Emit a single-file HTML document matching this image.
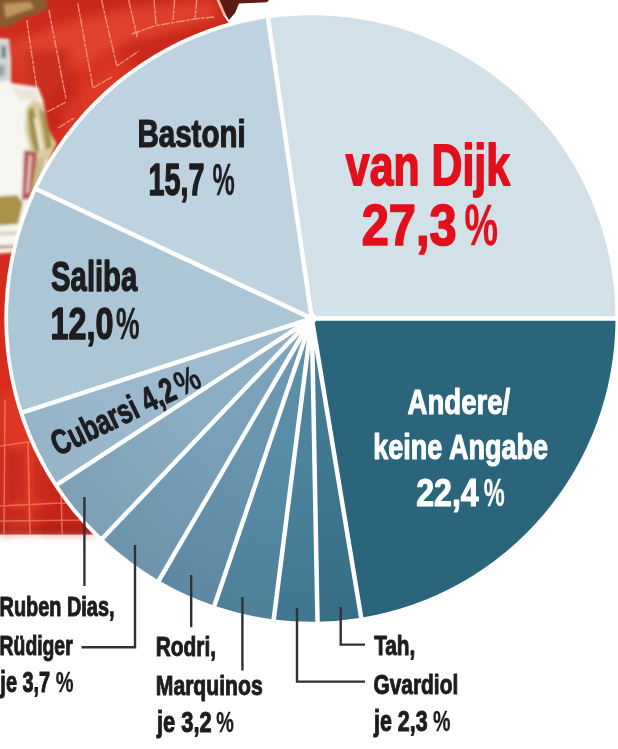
<!DOCTYPE html>
<html lang="de"><head><meta charset="utf-8"><title>Umfrage Innenverteidiger</title>
<style>
html,body{margin:0;padding:0;background:#fff;}
body{width:618px;height:749px;overflow:hidden;position:relative;}
svg{display:block;position:absolute;left:0;top:0;}
text{font-family:"Liberation Sans",sans-serif;font-weight:bold;vector-effect:non-scaling-stroke;stroke-linejoin:round;}
</style></head><body>
<svg width="618" height="749" viewBox="0 0 618 749">
<rect width="618" height="749" fill="#fff"/>
<defs>
<filter id="b1" x="-30%" y="-30%" width="160%" height="160%"><feGaussianBlur stdDeviation="0.7"/></filter>
<filter id="b2" x="-30%" y="-30%" width="160%" height="160%"><feGaussianBlur stdDeviation="1.6"/></filter>
<filter id="b4" x="-30%" y="-30%" width="160%" height="160%"><feGaussianBlur stdDeviation="5"/></filter>
<linearGradient id="redv" x1="0" y1="0" x2="0" y2="1">
<stop offset="0" stop-color="#c8281c"/><stop offset="0.12" stop-color="#d93322"/><stop offset="0.45" stop-color="#d52b1e"/><stop offset="0.8" stop-color="#d82c1f"/><stop offset="0.965" stop-color="#cf281c"/><stop offset="0.99" stop-color="#a81e17"/><stop offset="1" stop-color="#b8443a"/>
</linearGradient>
</defs>
<g>
<path d="M0 0H218L224 16L232 28L250 45H330V330H230V534.5H0Z" fill="url(#redv)"/>
<!-- folds: lighter and darker zones -->
<g filter="url(#b4)">
<path d="M10 45L60 25L130 8L215 0L215 22L130 40L70 70L40 110Z" fill="#ea4f36" opacity="0.6"/>
<path d="M22 50L70 48L80 110L52 135L30 100Z" fill="#b4221a" opacity="0.55"/>
<path d="M120 45L215 18L218 70L160 110L120 140Z" fill="#bf241b" opacity="0.5"/>
<path d="M60 110L120 60L150 70L100 140L70 160Z" fill="#e2402b" opacity="0.45"/>
<path d="M0 395L45 380L65 470L35 534L0 534Z" fill="#e5432d" opacity="0.5"/>
<path d="M0 440L10 440L10 534L0 534Z" fill="#b3211a" opacity="0.5"/>
<path d="M40 470L95 500L95 534L40 534Z" fill="#c4251b" opacity="0.5"/>
</g>
<!-- jersey stitching lines -->
<g stroke="#f6a58c" stroke-width="1.4" fill="none" opacity="0.8" stroke-dasharray="9 1.2 4 1" filter="url(#b1)">
<path d="M26.8 20L38.7 102M48.9 10L65.9 98.5M77.8 3.4L93 88M101.5 0L116.8 66M128.7 0L137.2 37M154 0L156 25M174.6 0L173 20M196.7 0L195 18.7"/>
<path d="M47 112L66 102M58 128L74 118M93 88L112 77M116.8 66L139 51M132 34L156 25.5L196.7 18.7L214 17"/>
</g>
<g stroke="#f08468" stroke-width="1.5" fill="none" opacity="0.75" filter="url(#b1)">
<path d="M0 446L28 442L62 436M0 506L62 503L84 504M0 521L90 520M5 400L4 534M28 442L30 534M61 480L62 534"/>
</g>
<g filter="url(#b2)" opacity="0.5">
<path d="M8 452L24 450L25 500L9 502Z" fill="#b5241a"/>
<path d="M34 448L56 446L57 498L35 500Z" fill="#bd261c"/>
<path d="M8 510L26 509L26 519L8 519Z" fill="#b5241a"/>
<path d="M34 508L58 507L58 518L34 519Z" fill="#b9251b"/>
<path d="M66 490L80 500L82 518L66 518Z" fill="#bd261c"/>
</g>
<!-- dark arm top right -->
<path d="M219 0H269L267 2.2L239 3.5L235 13L229 20L224 12Z" fill="#5b1b10"/>
<path d="M216.5 0L219.5 0L226 15L224 17Z" fill="#f4b898"/>
<!-- trophy -->
<g filter="url(#b2)">
<path d="M-10 -10L44 -10L48 8L38 14L22 18L12 26L-10 28Z" fill="#8a5a30"/>
<path d="M4 4L30 2L34 8L16 14L6 18Z" fill="#c9a86a" opacity="0.8"/>
<path d="M-10 38L9 39L11 60L11 83L38 87L43 100L48 130L56 143L46 168L38 200L22 222L19 252L-10 254Z" fill="#f7f5ef"/>
<path d="M-10 40L9 41L10 80L-10 84Z" fill="#cfd3d3"/>
<path d="M1 46L6 46L6 58L1 58Z" fill="#5f6a70" opacity="0.75"/>
<path d="M-4 64L5 66L4 76L-4 76Z" fill="#7b868c" opacity="0.6"/>
<path d="M12 88L36 90L40 100L20 100Z" fill="#e8e4d8"/>
<path d="M26 108L33 100L42 103L49 130L56 145L48 160L40 160L30 150L25 130Z" fill="#d9cf9f"/>
<path d="M28 112L33 106L38 130L40 152L34 150L30 135Z" fill="#9f8f4a"/>
<path d="M39 108L44 112L50 134L52 147L46 150L43 130Z" fill="#a3934e"/>
<path d="M34 118L37 118L43 150L40 152Z" fill="#f3eed8"/>
<path d="M24 150L37 152L36 175L30 199L22 200Z" fill="#b45a55"/>
<path d="M29 155L32 156L29 192L26 194Z" fill="#f0dcd2" opacity="0.85"/>
<path d="M37 158L46 158L40 185L33 200L31 196Z" fill="#c9bd86"/>
<path d="M-10 197L17 195L23 203L18 224L-10 226Z" fill="#aa9247"/>
<path d="M-10 232L19 231L19 235L-10 236Z" fill="#d8d2c0"/>
<path d="M-10 246L16 245L16 248L-10 249Z" fill="#9c7f5a" opacity="0.8"/>
</g>
</g>

<ellipse cx="311.8" cy="318.5" rx="307.5" ry="307.1" fill="#fff"/>
<defs><radialGradient id="g2" gradientUnits="userSpaceOnUse" cx="311.8" cy="318.5" r="303.7"><stop offset="0" stop-color="#4a7f97"/><stop offset="0.5" stop-color="#407891"/><stop offset="1" stop-color="#376d85"/></radialGradient><radialGradient id="g3" gradientUnits="userSpaceOnUse" cx="311.8" cy="318.5" r="303.7"><stop offset="0" stop-color="#5488a1"/><stop offset="0.5" stop-color="#4b829c"/><stop offset="1" stop-color="#417690"/></radialGradient><radialGradient id="g4" gradientUnits="userSpaceOnUse" cx="311.8" cy="318.5" r="303.7"><stop offset="0" stop-color="#6192a9"/><stop offset="0.5" stop-color="#588ca5"/><stop offset="1" stop-color="#4e8098"/></radialGradient><radialGradient id="g5" gradientUnits="userSpaceOnUse" cx="311.8" cy="318.5" r="303.7"><stop offset="0" stop-color="#709ab3"/><stop offset="0.5" stop-color="#6994ae"/><stop offset="1" stop-color="#5e88a2"/></radialGradient><radialGradient id="g6" gradientUnits="userSpaceOnUse" cx="311.8" cy="318.5" r="303.7"><stop offset="0" stop-color="#80a5bd"/><stop offset="0.5" stop-color="#79a0b9"/><stop offset="1" stop-color="#6e94ac"/></radialGradient><radialGradient id="g7" gradientUnits="userSpaceOnUse" cx="311.8" cy="318.5" r="303.7"><stop offset="0" stop-color="#90b1c5"/><stop offset="0.5" stop-color="#8aadc2"/><stop offset="1" stop-color="#7ea0b4"/></radialGradient><radialGradient id="g8" gradientUnits="userSpaceOnUse" cx="311.8" cy="318.5" r="303.7"><stop offset="0" stop-color="#a0bccf"/><stop offset="0.5" stop-color="#9dbace"/><stop offset="1" stop-color="#97b3c7"/></radialGradient></defs>
<g>
<path d="M311.80 318.50L268.06 18.36A303.7 303.3 0 0 1 615.50 318.50Z" fill="#d2e0e8"/>
<path d="M311.80 318.50L615.50 318.50A303.7 303.3 0 0 1 361.19 617.76Z" fill="#2a657b"/>
<path d="M311.80 318.50L361.19 617.76A303.7 303.3 0 0 1 317.52 621.75Z" fill="url(#g2)"/>
<path d="M311.80 318.50L317.52 621.75A303.7 303.3 0 0 1 273.74 619.41Z" fill="url(#g3)"/>
<path d="M311.80 318.50L273.74 619.41A303.7 303.3 0 0 1 214.33 605.75Z" fill="url(#g4)"/>
<path d="M311.80 318.50L214.33 605.75A303.7 303.3 0 0 1 158.85 580.53Z" fill="url(#g5)"/>
<path d="M311.80 318.50L158.85 580.53A303.7 303.3 0 0 1 102.52 538.29Z" fill="url(#g6)"/>
<path d="M311.80 318.50L102.52 538.29A303.7 303.3 0 0 1 57.44 484.22Z" fill="url(#g7)"/>
<path d="M311.80 318.50L57.44 484.22A303.7 303.3 0 0 1 22.96 412.22Z" fill="url(#g8)"/>
<path d="M311.80 318.50L22.96 412.22A303.7 303.3 0 0 1 37.00 189.36Z" fill="#adc6d5"/>
<path d="M311.80 318.50L37.00 189.36A303.7 303.3 0 0 1 268.06 18.36Z" fill="#bfd2df"/>
</g>
<path d="M311.80 318.50L267.92 17.37M311.80 318.50L616.50 318.50M311.80 318.50L361.36 618.75M311.80 318.50L317.54 622.75M311.80 318.50L273.61 620.40M311.80 318.50L214.01 606.70M311.80 318.50L158.35 581.39M311.80 318.50L101.83 539.01M311.80 318.50L56.61 484.77M311.80 318.50L22.01 412.53M311.80 318.50L36.10 188.94" stroke="#fff" stroke-width="4.5" fill="none"/>
<circle cx="311.8" cy="318.5" r="5" fill="#fff"/>
<g stroke="#2e3236" stroke-width="2.4" fill="none">
<path d="M84.4 497V586"/>
<path d="M135 545V647.3H81.5"/>
<path d="M191.2 575V627.3"/>
<path d="M242.4 597V670.5"/>
<path d="M297 608V681.6H365"/>
<path d="M340.7 607V644.6H365"/>
</g>
<g>
<text transform="translate(137.38 146.80) scale(0.7542 1)" font-size="39.18" fill="#1d1d1f" stroke="#1d1d1f" stroke-width="1.1">Bastoni</text>
<text transform="translate(148.50 195.10) scale(0.6435 1)" font-size="44.64" fill="#1d1d1f" stroke="#1d1d1f" stroke-width="1.25">15,7</text>
<text transform="translate(212.55 195.10) scale(0.5614 1)" font-size="44.64" font-weight="normal" fill="#1d1d1f" stroke="#1d1d1f" stroke-width="0.3">%</text>
<text transform="translate(51.11 291.10) scale(0.6980 1)" font-size="41.92" fill="#1d1d1f" stroke="#1d1d1f" stroke-width="1.17">Saliba</text>
<text transform="translate(50.47 339.20) scale(0.7395 1)" font-size="43.71" fill="#1d1d1f" stroke="#1d1d1f" stroke-width="1.22">12,0</text>
<text transform="translate(115.99 339.20) scale(0.5985 1)" font-size="44.35" font-weight="normal" fill="#1d1d1f" stroke="#1d1d1f" stroke-width="0.3">%</text>
<text transform="translate(345.87 184.70) scale(0.7548 1)" font-size="56.71" fill="#e2101c" stroke="#e2101c" stroke-width="1.59">van Dijk</text>
<text transform="translate(361.73 244.60) scale(0.8570 1)" font-size="56.86" fill="#e2101c" stroke="#e2101c" stroke-width="1.59">27,3</text>
<text transform="translate(464.54 244.60) scale(0.6528 1)" font-size="57.68" font-weight="normal" fill="#e2101c" stroke="#e2101c" stroke-width="0.3">%</text>
<text transform="translate(407.57 413.70) scale(0.7782 1)" font-size="35.48" fill="#ffffff" stroke="#ffffff" stroke-width="0.99">Andere/</text>
<text transform="translate(373.20 459.00) scale(0.7627 1)" font-size="35.48" fill="#ffffff" stroke="#ffffff" stroke-width="0.99">keine Angabe</text>
<text transform="translate(416.16 505.90) scale(0.8497 1)" font-size="37.86" fill="#ffffff" stroke="#ffffff" stroke-width="1.06">22,4</text>
<text transform="translate(483.81 505.90) scale(0.6140 1)" font-size="38.41" font-weight="normal" fill="#ffffff" stroke="#ffffff" stroke-width="0.3">%</text>
<text transform="translate(-0.44 616.40) scale(0.7298 1)" font-size="27.26" fill="#1d1d1f" stroke="#1d1d1f" stroke-width="0.9">Ruben Dias,</text>
<text transform="translate(-0.40 655.20) scale(0.6993 1)" font-size="27.67" fill="#1d1d1f" stroke="#1d1d1f" stroke-width="0.9">Rüdiger</text>
<text transform="translate(0.35 692.10) scale(0.6835 1)" font-size="29.14" fill="#1d1d1f" stroke="#1d1d1f" stroke-width="0.9">je 3,7</text>
<text transform="translate(55.65 692.10) scale(0.6765 1)" font-size="29.57" font-weight="normal" fill="#1d1d1f" stroke="#1d1d1f" stroke-width="0.3">%</text>
<text transform="translate(155.79 656.40) scale(0.7543 1)" font-size="27.67" fill="#1d1d1f" stroke="#1d1d1f" stroke-width="0.9">Rodri,</text>
<text transform="translate(155.77 694.50) scale(0.7645 1)" font-size="27.67" fill="#1d1d1f" stroke="#1d1d1f" stroke-width="0.9">Marquinos</text>
<text transform="translate(156.89 731.60) scale(0.7587 1)" font-size="28.86" fill="#1d1d1f" stroke="#1d1d1f" stroke-width="0.9">je 3,2</text>
<text transform="translate(216.26 731.60) scale(0.6747 1)" font-size="29.28" font-weight="normal" fill="#1d1d1f" stroke="#1d1d1f" stroke-width="0.3">%</text>
<text transform="translate(374.14 655.40) scale(0.7550 1)" font-size="27.53" fill="#1d1d1f" stroke="#1d1d1f" stroke-width="0.9">Tah,</text>
<text transform="translate(373.51 693.60) scale(0.7585 1)" font-size="27.53" fill="#1d1d1f" stroke="#1d1d1f" stroke-width="0.9">Gvardiol</text>
<text transform="translate(374.08 731.40) scale(0.7494 1)" font-size="28.57" fill="#1d1d1f" stroke="#1d1d1f" stroke-width="0.9">je 2,3</text>
<text transform="translate(433.06 731.40) scale(0.6772 1)" font-size="28.99" font-weight="normal" fill="#1d1d1f" stroke="#1d1d1f" stroke-width="0.3">%</text>
<g transform="translate(59.0 455.8) rotate(-25.8)" font-size="34.72" fill="#1d1d1f" stroke="#1d1d1f"><text transform="translate(-0.99 0) scale(0.7159 1)" stroke-width="0.95">Cubarsi 4,2</text><text transform="translate(135.89 0) scale(0.8000 1)" font-weight="normal" stroke-width="0.25">%</text></g>
</g>
</svg>
</body></html>
